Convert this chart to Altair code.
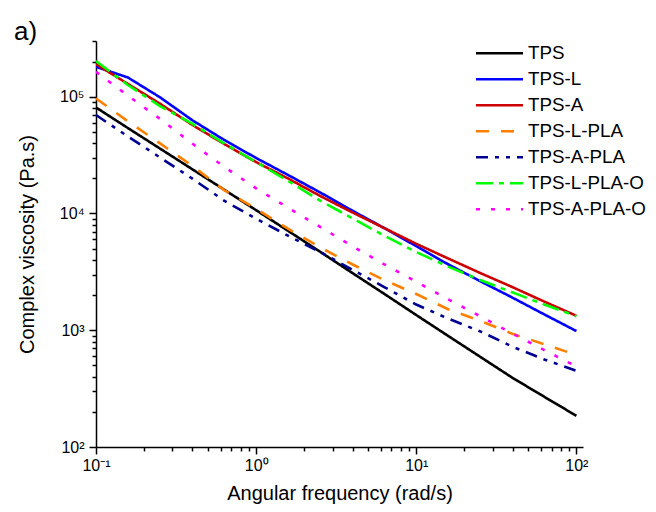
import altair as alt
import pandas as pd

FONT = "Liberation Sans"

# Angular frequency (rad/s)
freq = [0.1, 0.158, 0.251, 0.398, 0.631, 1.0, 1.58, 2.51, 3.98, 6.31,
        10.0, 15.8, 25.1, 39.8, 63.1, 100.0]

# Complex viscosity (Pa.s) per sample
tps = [80900, 53950, 35970, 23990, 16000, 10670, 7110, 4700, 3100, 2050,
       1350, 895, 592, 392, 269, 185]
tps_l = [180300, 146200, 98850, 63100, 42660, 29850, 21380, 15140, 10590, 7499,
         5248, 3673, 2630, 1905, 1365, 984]
tps_a = [190100, 128800, 87100, 57540, 39360, 27540, 19950, 14130, 10230, 7499,
         5495, 4121, 3090, 2344, 1758, 1330]
tps_l_pla = [96600, 61660, 39810, 25700, 15850, 10960, 7413, 5129, 3673, 2692,
             2042, 1514, 1202, 933, 759, 614]
tps_a_pla = [69660, 45710, 30200, 19950, 12880, 9016, 6457, 4677, 3311, 2344,
             1660, 1259, 977, 724, 562, 450]
tps_l_pla_o = [201800, 125900, 83180, 58880, 39810, 27540, 19050, 12880, 9120, 6457,
               4677, 3508, 2692, 2113, 1660, 1318]
tps_a_pla_o = [163300, 102300, 64570, 39810, 25120, 16410, 11220, 7674, 5248, 3673,
               2600, 1841, 1318, 938, 676, 490]

names = ["TPS", "TPS-L", "TPS-A", "TPS-L-PLA", "TPS-A-PLA", "TPS-L-PLA-O", "TPS-A-PLA-O"]
series_values = [tps, tps_l, tps_a, tps_l_pla, tps_a_pla, tps_l_pla_o, tps_a_pla_o]
colors = ["#000000", "#0000ff", "#cc0000", "#ff8000", "#000090", "#00ff00", "#ff00ff"]
dashes = [[1, 0], [1, 0], [1, 0], [13, 12], [12, 7, 4, 7, 4, 7], [17, 6, 5, 6], [4, 11]]

panel_label = ["a)"]

# Axis tick positions (decades + minor 2..9)
x_decades = [0.1, 1, 10]
y_decades = [100, 1000, 10000, 100000]
x_ticks = [m * d for d in x_decades for m in range(1, 10)] + [100]
y_ticks = [m * d for d in y_decades for m in range(1, 10)]
y_ticks = [v for v in y_ticks if v <= 300000]

rows = []
for name, vals in zip(names, series_values):
    for f, v in zip(freq, vals):
        rows.append({"freq": f, "eta": v, "series": name})
df = pd.DataFrame(rows)

major_test = "abs(log(datum.value)/LN10 - round(log(datum.value)/LN10)) < 0.001"
label_expr = ("(" + major_test + ") ? '10' + ['\u207b\u00b9','\u2070','\u00b9','\u00b2','\u00b3','\u2074','\u2075']"
              "[round(log(datum.value)/LN10)+1] : ''")
tick_size = {"condition": {"test": major_test, "value": 7}, "value": 4}

color_scale = alt.Scale(domain=names, range=colors)
dash_scale = alt.Scale(domain=names, range=dashes)

W, H = 487, 406

lines = alt.Chart(df).mark_line(strokeWidth=2.6, strokeCap="butt", clip=True).encode(
    x=alt.X("freq:Q",
            scale=alt.Scale(type="log", domain=[0.1, 110], nice=False),
            axis=alt.Axis(values=x_ticks, labelExpr=label_expr, tickSize=tick_size,
                          title="Angular frequency (rad/s)", grid=False,
                          labelFlush=False, labelOverlap=False, labelPadding=3,
                          labelFontSize=16, titleFontSize=20, titleFontWeight="normal",
                          titleX=W / 2, titleY=52, titleBaseline="alphabetic",
                          domainColor="black", tickColor="black",
                          domainWidth=1.5, tickWidth=1.5, labelColor="black",
                          titleColor="black")),
    y=alt.Y("eta:Q",
            scale=alt.Scale(type="log", domain=[100, 300000], nice=False),
            axis=alt.Axis(values=y_ticks, labelExpr=label_expr, tickSize=tick_size,
                          title="Complex viscosity (Pa.s)", grid=False,
                          labelOverlap=False, labelPadding=5,
                          labelFontSize=16, titleFontSize=20, titleFontWeight="normal",
                          titleX=-62.5, titleY=H / 2, titleBaseline="alphabetic",
                          domainColor="black", tickColor="black",
                          domainWidth=1.5, tickWidth=1.5, labelColor="black",
                          titleColor="black")),
    color=alt.Color("series:N", scale=color_scale, legend=None),
    strokeDash=alt.StrokeDash("series:N", scale=dash_scale, legend=None),
    detail="series:N",
    order=alt.Order("freq:Q"),
)

legend_df = pd.DataFrame({"series": names})
leg_y = alt.Y("series:N",
              scale=alt.Scale(type="point", domain=names, range=[12.3, 168.3], padding=0),
              axis=None)

leg_rules = alt.Chart(legend_df).mark_rule(strokeWidth=2.6, strokeCap="butt").encode(
    x=alt.value(380), x2=alt.value(427),
    y=leg_y,
    color=alt.Color("series:N", scale=color_scale, legend=None),
    strokeDash=alt.StrokeDash("series:N", scale=dash_scale, legend=None),
)

leg_text = alt.Chart(legend_df).mark_text(
    align="left", baseline="middle", fontSize=18.8, font=FONT, color="black"
).encode(
    x=alt.value(432),
    y=leg_y,
    text="series:N",
)

label_text = alt.Chart(pd.DataFrame({"label": panel_label})).mark_text(
    align="left", baseline="alphabetic", fontSize=26, font=FONT, color="black"
).encode(
    x=alt.value(-82),
    y=alt.value(-1),
    text="label:N",
)

chart = alt.layer(lines, leg_rules, leg_text, label_text).resolve_scale(
    y="independent"
).properties(
    width=W, height=H,
    autosize="none",
    padding={"left": 88, "top": 33, "right": 65, "bottom": 57},
).configure_view(stroke=None).configure_axis(
    labelFont=FONT, titleFont=FONT
)

chart.save("out.html", embed_options={"renderer": "svg", "actions": False})
